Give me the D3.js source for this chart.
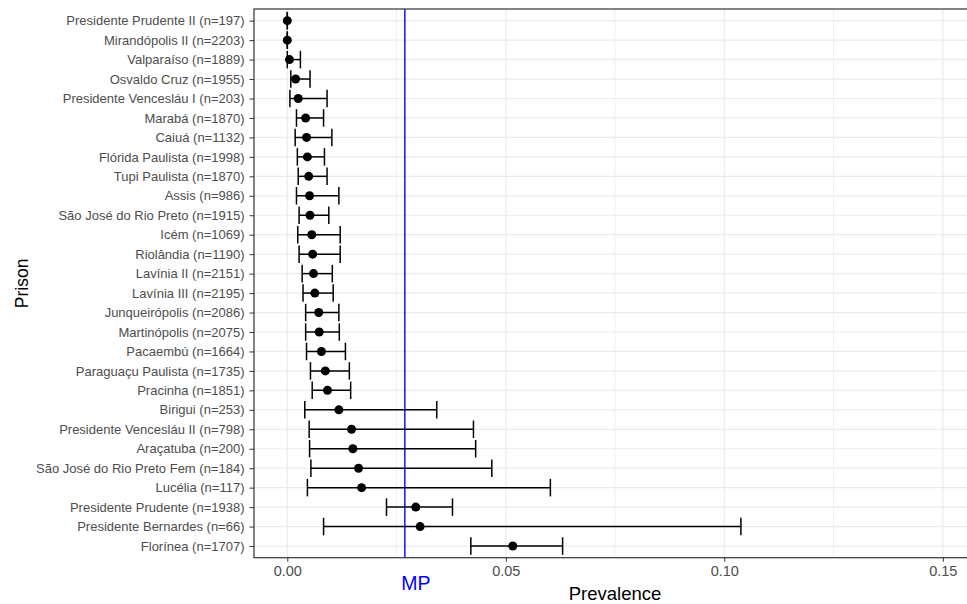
<!DOCTYPE html>
<html lang="en">
  <head>
    <meta charset="UTF-8">
    <title>Prevalence by prison</title>
    <style>
      body { margin: 0; background: #fff; }
      svg { font-family: "Liberation Sans", Arial, sans-serif; display: block; }
      .axis-y text { fill: #4d4d4d; font-size: 13px; }
      .axis-x text { fill: #4d4d4d; font-size: 14.5px; }
      .axis line, .axis path { stroke: #333; }
    </style>
    <script src="https://d3js.org/d3.v7.min.js"></script>
  </head>
  <body>
    <script>
      // prisons, top to bottom as drawn
      const prisons = [
        "Presidente Prudente II (n=197)", "Mirandópolis II (n=2203)", "Valparaíso (n=1889)",
        "Osvaldo Cruz (n=1955)", "Presidente Vencesláu I (n=203)", "Marabá (n=1870)",
        "Caiuá (n=1132)", "Flórida Paulista (n=1998)", "Tupi Paulista (n=1870)",
        "Assis (n=986)", "São José do Rio Preto (n=1915)", "Icém (n=1069)",
        "Riolândia (n=1190)", "Lavínia II (n=2151)", "Lavínia III (n=2195)",
        "Junqueirópolis (n=2086)", "Martinópolis (n=2075)", "Pacaembú (n=1664)",
        "Paraguaçu Paulista (n=1735)", "Pracinha (n=1851)", "Birigui (n=253)",
        "Presidente Vencesláu II (n=798)", "Araçatuba (n=200)", "São José do Rio Preto Fem (n=184)",
        "Lucélia (n=117)", "Presidente Prudente (n=1938)", "Presidente Bernardes (n=66)",
        "Florínea (n=1707)"
      ];
      const prevalence = [
        0.0000, 0.0000, 0.0005, 0.0019, 0.0025, 0.0042, 0.0044, 0.0046, 0.0049, 0.0051,
        0.0052, 0.0056, 0.0058, 0.0060, 0.0063, 0.0072, 0.0073, 0.0078, 0.0087, 0.0092,
        0.0118, 0.0147, 0.0150, 0.0163, 0.0170, 0.0294, 0.0304, 0.0516
      ];
      const lower = [
        0.0000, 0.0000, 0.0000, 0.0008, 0.0006, 0.0021, 0.0018, 0.0023, 0.0025, 0.0021,
        0.0027, 0.0024, 0.0027, 0.0034, 0.0036, 0.0042, 0.0042, 0.0044, 0.0053, 0.0057,
        0.0040, 0.0050, 0.0051, 0.0054, 0.0046, 0.0227, 0.0083, 0.0420
      ];
      const upper = [
        0.0000, 0.0000, 0.0030, 0.0052, 0.0091, 0.0083, 0.0102, 0.0085, 0.0091, 0.0118,
        0.0095, 0.0121, 0.0121, 0.0103, 0.0105, 0.0118, 0.0119, 0.0133, 0.0142, 0.0145,
        0.0342, 0.0426, 0.0431, 0.0468, 0.0602, 0.0378, 0.1038, 0.0630
      ];
      const xTicks = [0, 0.05, 0.10, 0.15];
      const xMinorTicks = [0.025, 0.075, 0.125];
      const mpValue = 0.0269;

      const data = prisons.map((p, i) => ({ prison: p, est: prevalence[i], lo: lower[i], hi: upper[i] }));

      const width = 967;
      const height = 604;
      const panel = { left: 254, top: 9, right: 972, bottom: 557.7 };

      const svg = d3.select("body")
        .append("svg")
        .attr("width", width)
        .attr("height", height);

      const x = d3.scaleLinear()
        .domain([-0.00762, 0.15668])
        .range([panel.left, panel.right]);

      const y = d3.scalePoint()
        .domain(prisons)
        .range([panel.top, panel.bottom])
        .padding(0.6);

      // panel background + grid
      svg.append("rect")
        .attr("x", panel.left).attr("y", panel.top)
        .attr("width", panel.right - panel.left)
        .attr("height", panel.bottom - panel.top)
        .attr("fill", "#fff");

      svg.append("g").selectAll("line")
        .data(xMinorTicks)
        .join("line")
        .attr("x1", d => x(d)).attr("x2", d => x(d))
        .attr("y1", panel.top).attr("y2", panel.bottom)
        .attr("stroke", "#f0f0f0").attr("stroke-width", 1);

      svg.append("g").selectAll("line")
        .data(xTicks)
        .join("line")
        .attr("x1", d => x(d)).attr("x2", d => x(d))
        .attr("y1", panel.top).attr("y2", panel.bottom)
        .attr("stroke", "#ebebeb").attr("stroke-width", 1.2);

      svg.append("g").selectAll("line")
        .data(prisons)
        .join("line")
        .attr("x1", panel.left).attr("x2", panel.right)
        .attr("y1", d => y(d)).attr("y2", d => y(d))
        .attr("stroke", "#ebebeb").attr("stroke-width", 1.2);

      // MP reference line
      svg.append("line")
        .attr("x1", x(mpValue)).attr("x2", x(mpValue))
        .attr("y1", panel.top).attr("y2", panel.bottom)
        .attr("stroke", "#0000ff").attr("stroke-width", 1.4);

      // error bars
      const capH = y.step() * 0.9 / 2;
      const bars = svg.append("g")
        .attr("stroke", "#000")
        .attr("stroke-width", 1.5);

      bars.selectAll(".bar")
        .data(data)
        .join("line")
        .attr("x1", d => x(d.lo)).attr("x2", d => x(d.hi))
        .attr("y1", d => y(d.prison)).attr("y2", d => y(d.prison));

      bars.selectAll(".cap-lo")
        .data(data)
        .join("line")
        .attr("class", "cap-lo")
        .attr("x1", d => x(d.lo)).attr("x2", d => x(d.lo))
        .attr("y1", d => y(d.prison) - capH).attr("y2", d => y(d.prison) + capH);

      bars.selectAll(".cap-hi")
        .data(data)
        .join("line")
        .attr("class", "cap-hi")
        .attr("x1", d => x(d.hi)).attr("x2", d => x(d.hi))
        .attr("y1", d => y(d.prison) - capH).attr("y2", d => y(d.prison) + capH);

      svg.append("g").selectAll("circle")
        .data(data)
        .join("circle")
        .attr("cx", d => x(d.est))
        .attr("cy", d => y(d.prison))
        .attr("r", 4.5)
        .attr("fill", "#000");

      // panel border (right edge falls outside the picture)
      svg.append("rect")
        .attr("x", panel.left).attr("y", panel.top)
        .attr("width", panel.right - panel.left)
        .attr("height", panel.bottom - panel.top)
        .attr("fill", "none")
        .attr("stroke", "#333").attr("stroke-width", 1.2);

      // axes
      svg.append("g")
        .attr("class", "axis axis-x")
        .attr("transform", `translate(0, ${panel.bottom})`)
        .call(d3.axisBottom(x)
          .tickValues(xTicks)
          .tickFormat(d3.format(".2f"))
          .tickSize(4)
          .tickPadding(4))
        .call(g => g.select(".domain").remove());

      svg.append("g")
        .attr("class", "axis axis-y")
        .attr("transform", `translate(${panel.left}, 0)`)
        .call(d3.axisLeft(y).tickSize(4.5).tickPadding(5))
        .call(g => g.select(".domain").remove());

      // titles
      svg.append("text")
        .attr("x", 615)
        .attr("y", 600)
        .attr("text-anchor", "middle")
        .attr("font-size", 18.5)
        .attr("fill", "#000")
        .text("Prevalence");

      svg.append("text")
        .attr("transform", `translate(28, ${(panel.top + panel.bottom) / 2}) rotate(-90)`)
        .attr("text-anchor", "middle")
        .attr("font-size", 17.5)
        .attr("fill", "#000")
        .text("Prison");

      svg.append("text")
        .attr("x", x(mpValue) - 3.5)
        .attr("y", 590)
        .attr("font-size", 19.5)
        .attr("fill", "#0000ff")
        .text("MP");
    </script>
  </body>
</html>
